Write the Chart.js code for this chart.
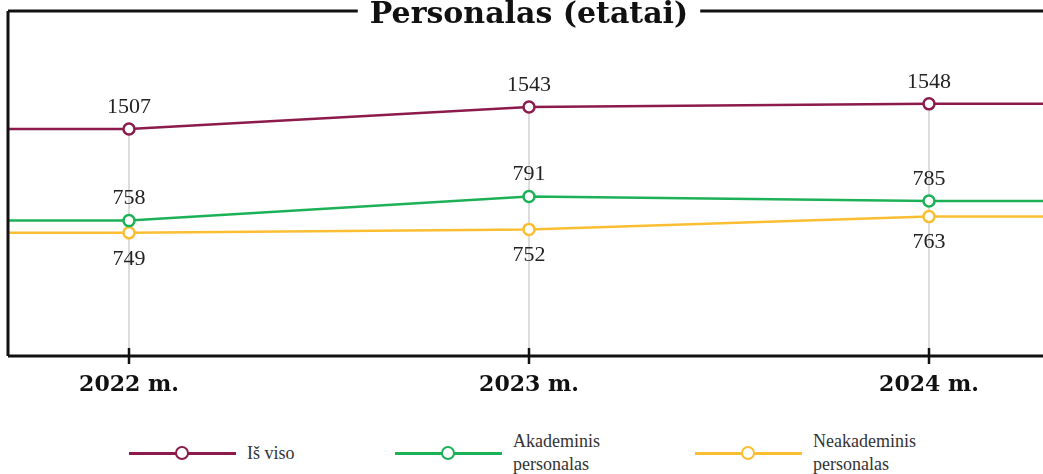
<!DOCTYPE html>
<html lang="lt">
<head>
<meta charset="utf-8">
<title>Personalas (etatai)</title>
<script src="https://cdn.jsdelivr.net/npm/chart.js@4.4.1/dist/chart.umd.min.js"></script>
<style>
  html, body { margin: 0; padding: 0; background: #fff; overflow: hidden; }
  .wrap { position: relative; width: 1043px; height: 474px; }
  #chart { display: block; }
  .legend { position: absolute; top: 428px; left: 0; width: 1043px; height: 50px;
    font-family: "Liberation Serif", serif; font-size: 18px; color: #333; }
  .item { position: absolute; top: 0; height: 50px; display: flex; align-items: center; }
  .mark { position: relative; width: 107px; height: 3px; margin-right: 11px; }
  .mark span { position: absolute; left: 46px; top: -6px; width: 10px; height: 10px;
    border: 2.5px solid; border-radius: 50%; background: #fff; }
  .text { line-height: 23px; white-space: pre-line; }
</style>
</head>
<body>
<div class="wrap">
  <canvas id="chart" width="1043" height="410"></canvas>
  <div class="legend" id="legend"></div>
</div>
<script>
  // 데이터
  const years = [2022, 2023, 2024];
  const seriesNames = ['Iš viso', 'Akademinis\npersonalas', 'Neakademinis\npersonalas'];
  const isViso = [1507, 1543, 1548];
  const akademinis = [758, 791, 785];
  const neakademinis = [749, 752, 763];
  const colors = ['#8c1a4b', '#1db157', '#fbbe33'];

  const serif = '"Liberation Serif", serif';
  const boldSerif = '"DejaVu Serif", serif';

  const toPoints = (vals) => years.map((yr, i) => ({ x: yr, y: vals[i] }));

  const line = (ctx, x1, y1, x2, y2) => {
    ctx.beginPath();
    ctx.moveTo(x1, y1);
    ctx.lineTo(x2, y2);
    ctx.stroke();
  };

  // 격자선, 선 연장, 값 라벨, 테두리와 제목
  const framePlugin = {
    id: 'frame',
    beforeDatasetsDraw(chart) {
      const { ctx, chartArea: a, scales: { x } } = chart;
      ctx.save();
      ctx.strokeStyle = '#dcdcdc';
      ctx.lineWidth = 2;
      years.forEach((yr, i) => {
        const px = x.getPixelForValue(yr);
        const top = Math.min(...chart.data.datasets.map((d, di) => chart.getDatasetMeta(di).data[i].y));
        line(ctx, px, top, px, a.bottom);
      });
      chart.data.datasets.forEach((d, di) => {
        const pts = chart.getDatasetMeta(di).data;
        const last = pts[pts.length - 1];
        ctx.strokeStyle = d.borderColor;
        ctx.lineWidth = d.borderWidth;
        line(ctx, a.left, pts[0].y, pts[0].x, pts[0].y);
        line(ctx, last.x, last.y, chart.width, last.y);
      });
      ctx.restore();
    },
    afterDatasetsDraw(chart) {
      const { ctx } = chart;
      ctx.save();
      ctx.font = '22px ' + serif;
      ctx.fillStyle = '#222';
      ctx.textAlign = 'center';
      ctx.textBaseline = 'middle';
      chart.data.datasets.forEach((d, di) => {
        chart.getDatasetMeta(di).data.forEach((p, i) => {
          const dy = d.labelBelow ? 26 : -22;
          ctx.fillText(String(d.data[i].y), p.x, p.y + dy);
        });
      });
      ctx.restore();
    },
    afterDraw(chart) {
      const { ctx, chartArea: a, scales: { x } } = chart;
      const mid = x.getPixelForValue(years[1]);
      ctx.save();
      ctx.strokeStyle = '#111';
      ctx.lineWidth = 3;
      line(ctx, a.left, a.top, a.left, a.bottom);
      line(ctx, a.left, a.bottom, chart.width, a.bottom);

      ctx.font = 'bold 30px ' + boldSerif;
      ctx.fillStyle = '#111';
      ctx.textAlign = 'center';
      ctx.textBaseline = 'alphabetic';
      const title = 'Personalas (etatai)';
      const w = ctx.measureText(title).width;
      ctx.fillText(title, mid, a.top + 12);
      line(ctx, a.left, a.top, mid - w / 2 - 12, a.top);
      line(ctx, mid + w / 2 + 12, a.top, chart.width, a.top);

      ctx.lineWidth = 2.5;
      years.forEach(yr => {
        const px = x.getPixelForValue(yr);
        line(ctx, px, a.bottom - 8, px, a.bottom + 8);
      });
      ctx.restore();
    }
  };

  const makeDataset = (name, vals, color, axis, below) => ({
    label: name.replace('\n', ' '),
    data: toPoints(vals),
    yAxisID: axis,
    borderColor: color,
    backgroundColor: '#fff',
    borderWidth: 2.5,
    pointRadius: 5.5,
    pointBorderWidth: 2.5,
    pointBackgroundColor: '#fff',
    pointBorderColor: color,
    labelBelow: below
  });

  new Chart(document.getElementById('chart'), {
    type: 'line',
    data: {
      datasets: [
        makeDataset(seriesNames[0], isViso, colors[0], 'yTotal', false),
        makeDataset(seriesNames[1], akademinis, colors[1], 'yAk', false),
        makeDataset(seriesNames[2], neakademinis, colors[2], 'yNeak', true)
      ]
    },
    options: {
      responsive: false,
      animation: false,
      layout: { autoPadding: false, padding: { left: 8, top: 11, right: 0, bottom: 0 } },
      plugins: { legend: { display: false }, tooltip: { enabled: false } },
      scales: {
        x: {
          type: 'linear',
          min: 2021.6975,
          max: 2024.285,
          afterBuildTicks: scale => { scale.ticks = years.map(v => ({ value: v })); },
          afterFit: scale => { scale.height = 54; },
          grid: { display: false, drawTicks: false },
          border: { display: false },
          ticks: {
            padding: 16,
            color: '#111',
            font: { family: boldSerif, size: 22, weight: 'bold' },
            callback: v => `${v} m.`
          }
        },
        yTotal: { display: false, min: 1138, max: 1699 },
        yAk: { display: false, min: 572, max: 1046 },
        yNeak: { display: false, min: 643, max: 940 }
      }
    },
    plugins: [framePlugin]
  });

  // 범례
  const legendPos = [129, 395, 695];
  const $legend = document.getElementById('legend');
  seriesNames.forEach((name, i) => {
    const item = document.createElement('div');
    item.className = 'item';
    item.style.left = legendPos[i] + 'px';
    item.innerHTML = `<div class="mark" style="background:${colors[i]}"><span style="border-color:${colors[i]}"></span></div><div class="text"></div>`;
    item.querySelector('.text').textContent = name;
    $legend.appendChild(item);
  });
</script>
</body>
</html>
